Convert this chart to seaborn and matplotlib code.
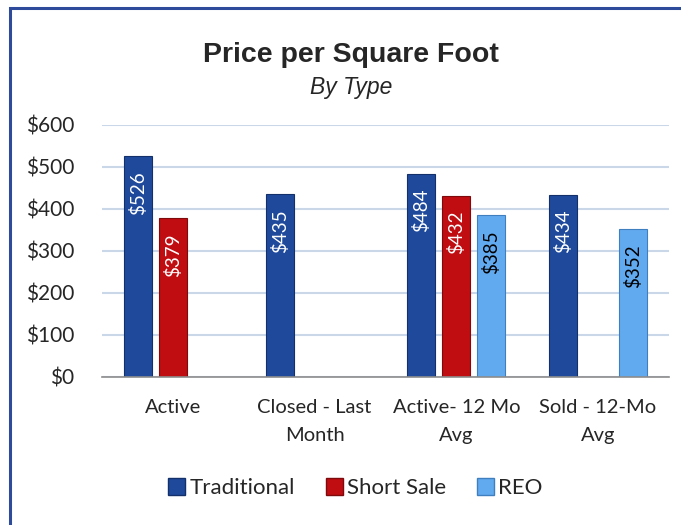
import numpy as np
import pandas as pd
import matplotlib
matplotlib.use("Agg")
import matplotlib.pyplot as plt
from matplotlib.patches import Rectangle
import seaborn as sns

# data
categories = ["Active", "Closed - Last\nMonth", "Active- 12 Mo\nAvg", "Sold - 12-Mo\nAvg"]
series = ["Traditional", "Short Sale", "REO"]
traditional = [526, 435, 484, 434]
short_sale = [379, np.nan, 432, np.nan]
reo = [np.nan, np.nan, 385, 352]
yticks = [0, 100, 200, 300, 400, 500, 600]

colors = {"Traditional": "#1f4a9c", "Short Sale": "#c00d12", "REO": "#62aaef"}
edges = {"Traditional": "#13306a", "Short Sale": "#7e0a0c", "REO": "#3f7fc0"}
label_colors = {"Traditional": "white", "Short Sale": "white", "REO": "black"}

rows = []
for name, vals in zip(series, [traditional, short_sale, reo]):
    for cat, v in zip(categories, vals):
        rows.append({"category": cat, "type": name, "value": v})
df = pd.DataFrame(rows)

sns.set_style("white")
plt.rcParams["font.family"] = ["Lato", "DejaVu Sans"]

fig = plt.figure(figsize=(6.81, 5.25), dpi=100)
ax = fig.add_axes([0.150, 0.282, 0.832, 0.480])

sns.barplot(data=df, x="category", y="value", hue="type",
            order=categories, hue_order=series, palette=colors,
            width=0.74, gap=0.2, ax=ax, legend=False, saturation=1)

# edge colours + value labels inside bars
for cont, name in zip(ax.containers, series):
    for bar in cont:
        h = bar.get_height()
        if np.isnan(h) or h == 0:
            continue
        bar.set_edgecolor(edges[name])
        bar.set_linewidth(0.8)
        ax.annotate(f"${h:.0f}", (bar.get_x() + bar.get_width() / 2, h),
                    xytext=(0, -11), textcoords="offset points",
                    rotation=90, ha="center", va="top", fontsize=13.5,
                    color=label_colors[name])

ax.set_ylim(0, 600)
ax.set_xlim(-0.5, 3.5)
ax.set_yticks(yticks)
ax.set_yticklabels([f"${t}" for t in yticks], fontsize=15)
ax.set_xticks(range(len(categories)))
ax.set_xticklabels(categories, fontsize=14.5, linespacing=1.75)
ax.tick_params(axis="x", length=0, pad=16)
ax.tick_params(axis="y", length=0, pad=20)
ax.set_xlabel("")
ax.set_ylabel("")
ax.yaxis.grid(True, color="#c9d7e8", linewidth=1.5)
ax.set_axisbelow(True)
for s in ["top", "right", "left"]:
    ax.spines[s].set_visible(False)
ax.spines["bottom"].set_color("#8c8c8c")
ax.spines["bottom"].set_linewidth(1.2)

# titles
fig.text(0.516, 0.895, "Price per Square Foot", ha="center", va="center",
         fontsize=20.5, fontweight="bold", family="Liberation Sans")
fig.text(0.516, 0.834, "By Type", ha="center", va="center",
         fontsize=16.5, style="italic", family="Liberation Sans")

# legend
handles = [Rectangle((0, 0), 1, 1, facecolor=colors[s], edgecolor=edges[s]) for s in series]
fig.legend(handles, series, loc="center", bbox_to_anchor=(0.522, 0.07),
           ncol=3, frameon=False, fontsize=16, handlelength=0.75,
           handleheight=0.75, handletextpad=0.2, columnspacing=1.4)

# frame around the chart (left and top visible)
fig.patches.append(Rectangle((0.0147, -0.05), 1.2, 1.035, transform=fig.transFigure,
                             fill=False, edgecolor="#2e4a9a", linewidth=2.2))

fig.savefig("out.png", dpi=100)
